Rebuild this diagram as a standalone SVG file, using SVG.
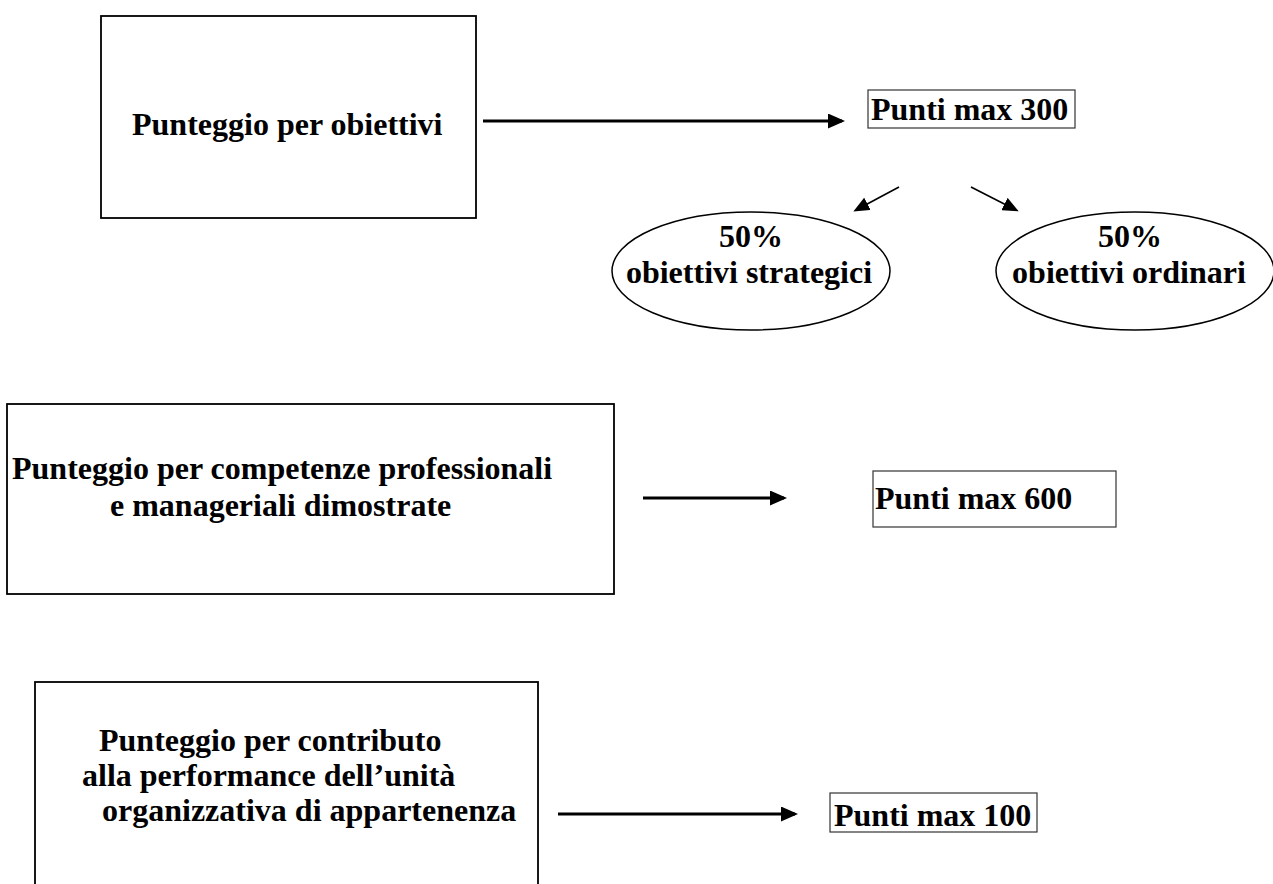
<svg xmlns="http://www.w3.org/2000/svg" width="1273" height="884" viewBox="0 0 1273 884">
<style>
  .box { fill: #fff; stroke: #000; stroke-width: 1.8; }
  .sbox { fill: #fff; stroke: #333; stroke-width: 1.2; }
  .ell { fill: #fff; stroke: #000; stroke-width: 1.5; }
  .t { font-family: "Liberation Serif", "Times New Roman", serif; font-weight: bold; font-size: 32px; fill: #000; }
  .c { text-anchor: middle; }
  .arr { stroke: #000; stroke-width: 3; fill: none; marker-end: url(#ah); }
  .sarr { stroke: #000; stroke-width: 1.6; fill: none; marker-end: url(#sah); }
</style>
<defs>
  <marker id="ah" markerUnits="userSpaceOnUse" markerWidth="17" markerHeight="15" refX="14" refY="7.5" orient="auto">
    <path d="M0,0 L17,7.5 L0,15 z" fill="#000"/>
  </marker>
  <marker id="sah" markerUnits="userSpaceOnUse" markerWidth="16" markerHeight="14" refX="13" refY="7" orient="auto">
    <path d="M0,0 L16,7 L0,14 z" fill="#000"/>
  </marker>
</defs>
<rect width="1273" height="884" fill="#fff"/>

<g id="connectors">
  <line class="arr" x1="483" y1="121" x2="842" y2="121"/>
  <line class="sarr" x1="899" y1="187" x2="856" y2="210"/>
  <line class="sarr" x1="971" y1="187" x2="1016" y2="210"/>
  <line class="arr" x1="643" y1="498" x2="784" y2="498"/>
  <line class="arr" x1="558" y1="814" x2="795" y2="814"/>
</g>

<g id="node-obiettivi">
  <rect class="box" x="101" y="16" width="375" height="202"/>
  <text class="t" x="132" y="135">Punteggio per obiettivi</text>
</g>

<g id="node-punti300">
  <rect class="sbox" x="868" y="90" width="207" height="38"/>
  <text class="t" x="871" y="120">Punti max 300</text>
</g>

<g id="node-strategici">
  <ellipse class="ell" cx="751" cy="271" rx="139" ry="59"/>
  <text class="t c" x="751" y="247">50%</text>
  <text class="t c" x="749" y="283">obiettivi strategici</text>
</g>

<g id="node-ordinari">
  <ellipse class="ell" cx="1135" cy="271" rx="139" ry="59"/>
  <text class="t c" x="1130" y="247">50%</text>
  <text class="t c" x="1129" y="283">obiettivi ordinari</text>
</g>

<g id="node-competenze">
  <rect class="box" x="7" y="404" width="607" height="190"/>
  <text class="t" x="12" y="479">Punteggio per competenze professionali</text>
  <text class="t" x="110" y="516">e manageriali dimostrate</text>
</g>

<g id="node-punti600">
  <rect class="sbox" x="873" y="471" width="243" height="56"/>
  <text class="t" x="875" y="509">Punti max 600</text>
</g>

<g id="node-contributo">
  <rect class="box" x="35" y="682" width="503" height="230"/>
  <text class="t" x="99" y="751">Punteggio per contributo</text>
  <text class="t" x="82" y="786">alla performance dell’unità</text>
  <text class="t" x="102" y="821">organizzativa di appartenenza</text>
</g>

<g id="node-punti100">
  <rect class="sbox" x="830" y="793" width="207" height="39"/>
  <text class="t" x="834" y="826">Punti max 100</text>
</g>
</svg>
